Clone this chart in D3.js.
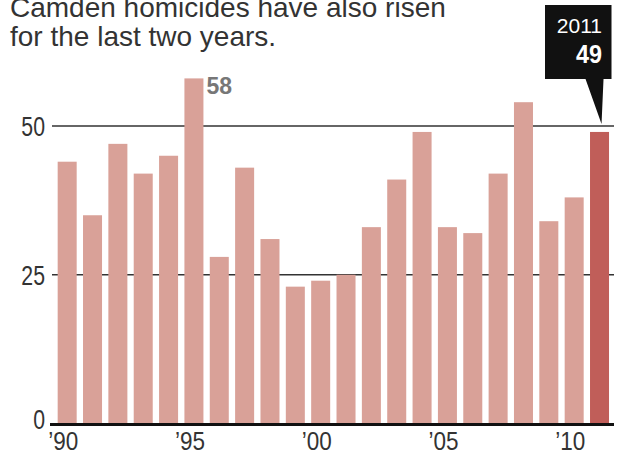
<!DOCTYPE html>
<html>
<head>
<meta charset="utf-8">
<script src="https://cdn.jsdelivr.net/npm/d3@7"></script>
<style>
  html, body { margin: 0; padding: 0; background: #ffffff; }
  svg { display: block; }
</style>
</head>
<body>
<svg id="chart" width="618" height="455"></svg>
<script>
// ---- data ----
const years = [1990,1991,1992,1993,1994,1995,1996,1997,1998,1999,2000,
               2001,2002,2003,2004,2005,2006,2007,2008,2009,2010,2011];
const homicides = [44,35,47,42,45,58,28,43,31,23,24,
                   25,33,41,49,33,32,42,54,34,38,49];
const yTicks = [0, 25, 50];
const xTickYears = [1990, 1995, 2000, 2005, 2010];
const xTickLabels = ["’90", "’95", "’00", "’05", "’10"];
const titleLines = ["Camden homicides have also risen", "for the last two years."];
const peakYear = 1995;
const highlightYear = 2011;

// ---- layout ----
const svg = d3.select("#chart");
const regular = "'Liberation Sans', Arial, Helvetica, sans-serif";

const x = d3.scaleBand().domain(years).range([54.5, 612.2]).paddingInner(0.25).paddingOuter(0.125);
const y = d3.scaleLinear().domain([0, 50]).range([423.5, 126]);

// title
svg.append("g").selectAll("text").data(titleLines).join("text")
  .attr("x", 10).attr("y", (d, i) => 17 + i * 28.5)
  .attr("font-family", regular).attr("font-size", 28).attr("fill", "#333")
  .text(d => d);

// gridlines (behind bars)
svg.append("g").selectAll("line").data(yTicks.filter(t => t > 0)).join("line")
  .attr("x1", 52).attr("x2", 614)
  .attr("y1", d => y(d)).attr("y2", d => y(d))
  .attr("stroke", "#333").attr("stroke-width", 1.6);

// bars
svg.append("g").selectAll("rect").data(years).join("rect")
  .attr("x", d => x(d))
  .attr("width", x.bandwidth())
  .attr("y", (d, i) => y(homicides[i]))
  .attr("height", (d, i) => y(0) - y(homicides[i]))
  .attr("fill", d => d === highlightYear ? "#c05e59" : "#d9a198");

// baseline
svg.append("line")
  .attr("x1", 50).attr("x2", 614)
  .attr("y1", y(0) + 1).attr("y2", y(0) + 1)
  .attr("stroke", "#111").attr("stroke-width", 3);

// y tick labels (condensed)
svg.append("g").selectAll("text").data(yTicks).join("text")
  .attr("transform", d => `translate(45,${y(d) + (d === 0 ? -5 : 0)}) scale(0.76,1)`)
  .attr("dy", "0.36em")
  .attr("text-anchor", "end")
  .attr("font-family", regular).attr("font-size", 28).attr("fill", "#333")
  .text(d => d);

// x tick labels (slightly condensed)
svg.append("g").selectAll("text").data(xTickYears).join("text")
  .attr("transform", d => `translate(${x(d) + x.bandwidth() / 2 - 4},441) scale(0.9,1)`)
  .attr("dy", "0.36em")
  .attr("text-anchor", "middle")
  .attr("font-family", regular).attr("font-size", 25).attr("fill", "#333")
  .text((d, i) => xTickLabels[i]);

// peak label
const pIdx = years.indexOf(peakYear);
svg.append("text")
  .attr("x", x(peakYear) + x.bandwidth() + 3)
  .attr("y", y(homicides[pIdx]) - 1)
  .attr("dy", "0.72em")
  .attr("font-family", regular).attr("font-weight", "bold")
  .attr("font-size", 23).attr("fill", "#777")
  .text(homicides[pIdx]);

// highlight callout
const hIdx = years.indexOf(highlightYear);
const hx = x(highlightYear) + x.bandwidth() / 2;
const hy = y(homicides[hIdx]) - 8;
const boxL = 545, boxR = 611.5, boxT = 5, boxB = 79;
const co = svg.append("g");
co.append("path")
  .attr("d", `M${boxL},${boxT}H${boxR}V${boxB}H${hx + 4}L${hx + 2},${hy}L${hx - 14},${boxB}H${boxL}Z`)
  .attr("fill", "#111");
co.append("text")
  .attr("x", 602).attr("y", 33)
  .attr("text-anchor", "end")
  .attr("font-family", regular).attr("font-size", 21).attr("fill", "#fff")
  .text(highlightYear);
co.append("text")
  .attr("transform", "translate(602,63) scale(0.9,1)")
  .attr("text-anchor", "end")
  .attr("font-family", regular).attr("font-weight", "bold").attr("font-size", 26).attr("fill", "#fff")
  .text(homicides[hIdx]);
</script>
</body>
</html>
